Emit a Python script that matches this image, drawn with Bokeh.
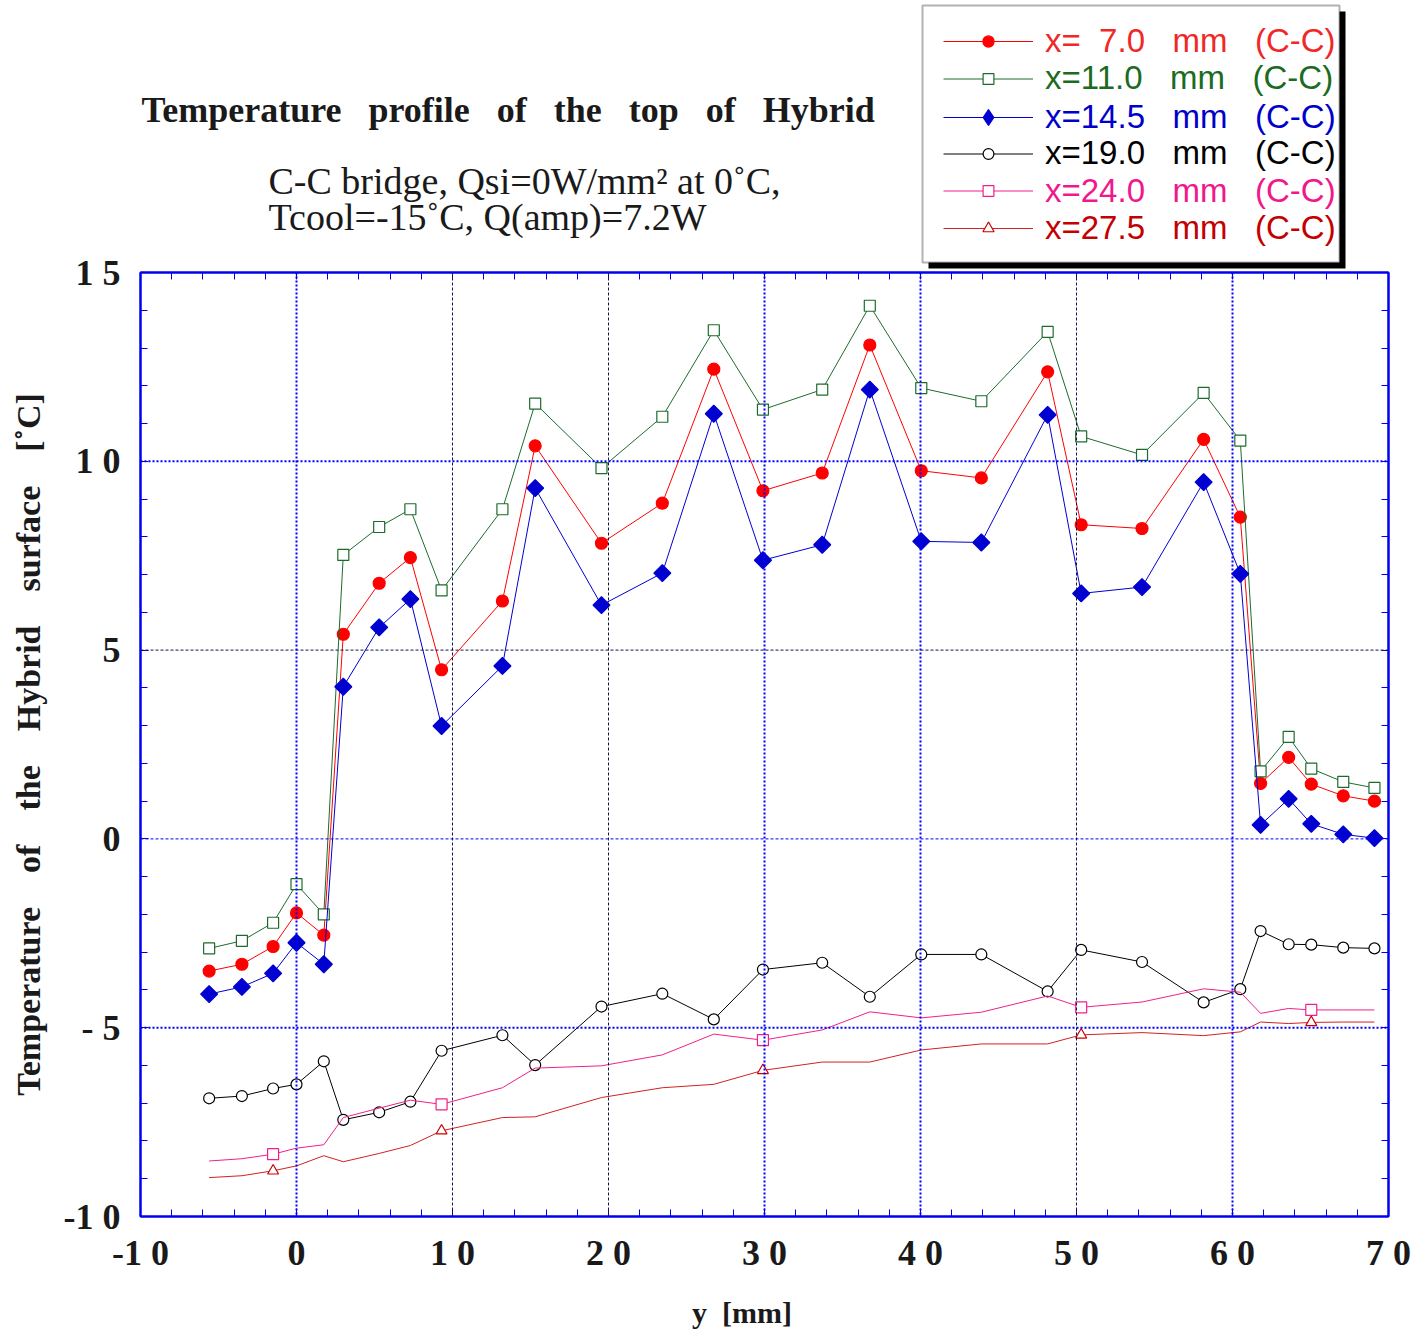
import numpy as np
from bokeh.plotting import figure
from bokeh.layouts import column
from bokeh.models import (Range1d, FixedTicker, LinearAxis, Span, Label, Legend,
                          LegendItem, BoxAnnotation)
from bokeh.embed import file_html
from bokeh.resources import INLINE

# ---------------- data ----------------
y_pos = [-5.6, -3.5, -1.5, 0.0, 1.75, 3.0, 5.3, 7.3, 9.3, 13.2, 15.3, 19.55, 23.45,
         26.75, 29.9, 33.7, 36.75, 40.05, 43.9, 48.15, 50.3, 54.2, 58.15, 60.5,
         61.8, 63.6, 65.05, 67.1, 69.1]

t_x070 = [-3.50, -3.32, -2.85, -1.96, -2.55, 5.42, 6.77, 7.45, 4.48, 6.30, 10.41,
          7.83, 8.89, 12.44, 9.22, 9.69, 13.08, 9.75, 9.56, 12.37, 8.32, 8.22,
          10.58, 8.52, 1.47, 2.16, 1.45, 1.14, 1.00]
t_x110 = [-2.90, -2.70, -2.22, -1.20, -2.00, 7.52, 8.26, 8.73, 6.58, 8.73, 11.53,
          9.82, 11.18, 13.47, 11.37, 11.90, 14.12, 11.94, 11.59, 13.43, 10.66,
          10.17, 11.81, 10.55, 1.79, 2.70, 1.86, 1.51, 1.35]
t_x145 = [-4.11, -3.92, -3.56, -2.75, -3.32, 4.03, 5.60, 6.35, 2.99, 4.58, 9.29,
          6.19, 7.04, 11.26, 7.38, 7.79, 11.90, 7.88, 7.85, 11.23, 6.50, 6.67,
          9.45, 7.02, 0.37, 1.06, 0.40, 0.12, 0.02]
t_x190 = [-6.87, -6.81, -6.61, -6.50, -5.89, -7.44, -7.24, -6.96, -5.61, -5.20,
          -5.99, -4.44, -4.10, -4.78, -3.46, -3.28, -4.18, -3.06, -3.06, -4.04,
          -2.94, -3.26, -4.33, -3.98, -2.44, -2.79, -2.80, -2.88, -2.90]
t_x240 = [-8.53, -8.47, -8.35, -8.19, -8.10, -7.38, -7.13, -6.92, -7.03, -6.59,
          -6.07, -6.01, -5.72, -5.17, -5.33, -5.06, -4.58, -4.74, -4.59, -4.16,
          -4.46, -4.32, -3.97, -4.06, -4.62, -4.49, -4.53, -4.53, -4.53]
t_x275 = [-8.97, -8.92, -8.79, -8.66, -8.39, -8.55, -8.33, -8.12, -7.73, -7.38,
          -7.36, -6.85, -6.59, -6.50, -6.13, -5.91, -5.91, -5.59, -5.43, -5.43,
          -5.19, -5.13, -5.21, -5.11, -4.85, -4.89, -4.86, -4.85, -4.85]
sparse_marker_idx = [2, 8, 14, 20, 26]

x_ticks = [-10, 0, 10, 20, 30, 40, 50, 60, 70]
x_tick_labels = ["-1 0", "0", "1 0", "2 0", "3 0", "4 0", "5 0", "6 0", "7 0"]
y_ticks = [-10, -5, 0, 5, 10, 15]
y_tick_labels = ["-1 0", "- 5", "0", "5", "1 0", "1 5"]

NB = "\u00a0"
legend_labels = ["x=" + NB * 2 + "7.0" + NB * 3 + "mm" + NB * 3 + "(C-C)",
                 "x=11.0" + NB * 3 + "mm" + NB * 3 + "(C-C)",
                 "x=14.5" + NB * 3 + "mm" + NB * 3 + "(C-C)",
                 "x=19.0" + NB * 3 + "mm" + NB * 3 + "(C-C)",
                 "x=24.0" + NB * 3 + "mm" + NB * 3 + "(C-C)",
                 "x=27.5" + NB * 3 + "mm" + NB * 3 + "(C-C)"]

# ---------------- layout constants ----------------
W, H = 1424, 1341
HT = 272                       # height of the heading strip (titles + legend)
OV = 34                        # overlap of the chart canvas into the heading strip
FL, FR, FT, FB = 140, 1388, 272, 1216
X0, X1, Y0, Y1 = -10, 70, -10, 15

serif = "Liberation Serif"
BLUE = "#0000ee"
C_RED, C_GRN, C_BLU, C_BLK, C_PNK, C_DRD = "#ff0000", "#1d6b2c", "#0000d0", "#000000", "#f0208a", "#d42020"

# style of each series:
# (line colour, marker, size, fill, marker line colour, angle, legend marker, legend glyph height)
styles = [
    (C_RED, "circle", 12, C_RED, C_RED, 0.0, "circle", 28),
    (C_GRN, "square", 11, "white", C_GRN, 0.0, "square", 27),
    (C_BLU, "square", 12, C_BLU, C_BLU, np.pi / 4, "diamond", 40),
    (C_BLK, "circle", 11, "white", C_BLK, 0.0, "circle", 27),
    (C_PNK, "square", 11, "white", C_PNK, 0.0, "square", 27),
    (C_DRD, "triangle", 11, "white", "#cc0000", 0.0, "triangle", 28),
]

# ================= main chart =================
p = figure(width=W, height=H - HT + OV, x_range=Range1d(X0, X1), y_range=Range1d(Y0, Y1),
           output_backend="svg", toolbar_location=None,
           min_border_left=FL, min_border_right=W - FR,
           min_border_top=OV, min_border_bottom=H - FB)
p.margin = (-OV, 0, 0, 0)
p.background_fill_color = "white"
p.border_fill_alpha = 0
p.outline_line_color = "#0000ff"
p.outline_line_width = 2
p.grid.visible = False

xa = p.xaxis[0]
ya = p.yaxis[0]
xa.ticker = FixedTicker(ticks=x_ticks, minor_ticks=list(range(-10, 71, 2)))
ya.ticker = FixedTicker(ticks=y_ticks, minor_ticks=list(range(-10, 16, 1)))
xa.major_label_overrides = {t: s for t, s in zip(x_ticks, x_tick_labels)}
ya.major_label_overrides = {t: s for t, s in zip(y_ticks, y_tick_labels)}
for ax in (xa, ya):
    ax.axis_line_color = BLUE
    ax.axis_line_width = 2
    ax.major_tick_line_color = BLUE
    ax.minor_tick_line_color = BLUE
    ax.major_tick_in = 8
    ax.major_tick_out = 0
    ax.minor_tick_in = 7
    ax.minor_tick_out = 0
    ax.major_label_text_font = serif
    ax.major_label_text_font_style = "bold"
    ax.major_label_text_font_size = "36px"
    ax.major_label_text_color = "#1a1a1a"
    ax.axis_label_text_font = serif
    ax.axis_label_text_font_style = "bold"
    ax.axis_label_text_color = "#1a1a1a"
xa.major_label_standoff = 16
ya.major_label_standoff = 20
xa.axis_label = "y" + NB * 2 + "[mm]" + NB * 6
xa.axis_label_text_font_size = "30px"
xa.axis_label_standoff = 20
ya.axis_label = ("Temperature" + NB * 4 + "of" + NB * 4 + "the" + NB * 4 +
                 "Hybrid" + NB * 4 + "surface" + NB * 4 + "[\u02daC]")
ya.axis_label_text_font_size = "34px"
ya.axis_label_standoff = 14

# frame ticks on the top and right edges (minor only, no labels)
for side, minor in (("above", list(range(-10, 71, 2))), ("right", list(range(-10, 16, 1)))):
    ax2 = LinearAxis(ticker=FixedTicker(ticks=[], minor_ticks=minor),
                     axis_line_color=BLUE, axis_line_width=2,
                     major_tick_line_color=BLUE, minor_tick_line_color=BLUE,
                     major_tick_in=8, major_tick_out=0, minor_tick_in=7, minor_tick_out=0)
    p.add_layout(ax2, side)

# gridlines
for v in (0, 30, 40, 60):
    p.add_layout(Span(location=v, dimension="height", line_color="#0000ff",
                      line_width=2, line_dash="2 2"))
for v in (10, 20, 50):
    p.add_layout(Span(location=v, dimension="height", line_color="#14144a",
                      line_width=1, line_dash="3 2"))
for v in (10, -5):
    p.add_layout(Span(location=v, dimension="width", line_color="#0000ff",
                      line_width=2, line_dash="2 2"))
for v, c in ((5, "#14144a"), (0, "#0000ff")):
    p.add_layout(Span(location=v, dimension="width", line_color=c,
                      line_width=1, line_dash="3 2"))

series = [t_x070, t_x110, t_x145, t_x190, t_x240, t_x275]
for k, (vals, st) in enumerate(zip(series, styles)):
    lc, mk, sz, fc, mc, ang, _, _ = st
    p.line(y_pos, vals, line_color=lc, line_width=1)
    if k < 4:
        mx, my = y_pos, vals
    else:
        mx = [y_pos[i] for i in sparse_marker_idx]
        my = [vals[i] for i in sparse_marker_idx]
    p.scatter(mx, my, marker=mk, size=sz, fill_color=fc, line_color=mc,
              line_width=1.2, angle=ang)

# ================= heading strip (titles + legend) =================
# its frame is aligned with the chart frame (x from FL to FR); coordinates are page pixels
t = figure(width=W, height=HT, x_range=Range1d(FL, FR), y_range=Range1d(HT, 0),
           x_axis_type=None, y_axis_type=None, output_backend="svg",
           toolbar_location=None, min_border_left=FL, min_border_right=W - FR,
           min_border_top=0, min_border_bottom=0)
t.outline_line_color = None
t.background_fill_color = "white"
t.border_fill_color = "white"

t.add_layout(Label(x=141, y=109,
                   text="Temperature" + NB * 2 + " profile" + NB * 2 + " of" + NB * 2 + " the" +
                        NB * 2 + " top" + NB * 2 + " of" + NB * 2 + " Hybrid",
                   text_font=serif, text_font_style="bold", text_font_size="36px",
                   text_color="#1a1a1a", text_align="left", text_baseline="alphabetic"))
t.add_layout(Label(x=268, y=180, text="C-C bridge, Qsi=0W/mm\u00b2 at 0\u02daC,",
                   text_font=serif, text_font_size="38px", text_color="#1a1a1a",
                   text_align="left", text_baseline="alphabetic"))
t.add_layout(Label(x=268, y=216, text="Tcool=-15\u02daC, Q(amp)=7.2W",
                   text_font=serif, text_font_size="38px", text_color="#1a1a1a",
                   text_align="left", text_baseline="alphabetic"))

# legend box with its shadow
t.add_layout(BoxAnnotation(left=928, right=1345, top=11, bottom=268,
                           fill_color="black", fill_alpha=1, line_alpha=0))
t.add_layout(BoxAnnotation(left=922, right=1339, top=5, bottom=262,
                           fill_color="white", fill_alpha=1, line_color="black", line_width=2))

leg_cols = ["#f02828", "#1b6b22", "#0000cc", "#000000", "#f0188c", "#c40000"]
label_h = 36
for i, (lab, col, st) in enumerate(zip(legend_labels, leg_cols, styles)):
    lc, mk, sz, fc, mc, ang, lmk, glyph_h = st
    lr = t.line(x=[np.nan], y=[np.nan], line_color=lc, line_width=1)
    sr = t.scatter(x=[np.nan], y=[np.nan], marker=lmk, size=sz, fill_color=fc,
                   line_color=mc, line_width=1.2)
    row_c = 42 + i * 37.4
    row_h = max(label_h, glyph_h)
    lg = Legend(items=[LegendItem(label=lab, renderers=[lr, sr])],
                location=(943 - FL, HT - (row_c + row_h / 2)),
                glyph_width=90, glyph_height=glyph_h, label_height=label_h, label_width=20,
                label_standoff=12, padding=0, margin=0, spacing=0,
                border_line_alpha=0, background_fill_alpha=0,
                label_text_font="Liberation Sans", label_text_font_size="33px",
                label_text_color=col, label_text_baseline="middle")
    t.add_layout(lg, "center")

layout = column(t, p, spacing=0)
open("out.html", "w").write(file_html(layout, INLINE))
